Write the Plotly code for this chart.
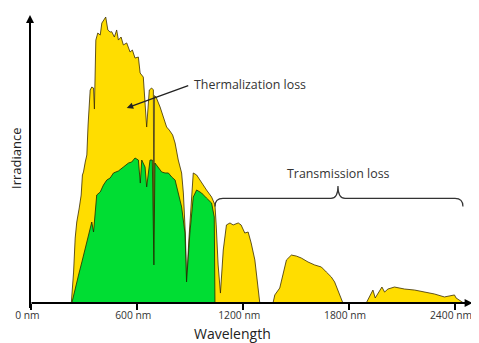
import plotly.graph_objects as go

# Total solar spectrum (wavelength in nm, irradiance in arbitrary units)
total_nm = [226, 239, 248, 257, 271, 282, 289, 295, 305, 314,
            321, 333, 342, 352, 357, 365, 376, 390, 399, 414,
            421, 433, 446, 455, 470, 483, 493, 508, 521, 540,
            559, 572, 587, 606, 616, 634, 653, 668, 681, 691,
            694, 697, 706, 729, 747, 766, 781, 800, 814, 832,
            851, 861, 872, 880, 892, 906, 917, 936, 964, 992,
            1021, 1040, 1047, 1058, 1071, 1081, 1087, 1105, 1125, 1143,
            1172, 1188, 1209, 1228, 1245, 1266, 1285, 1294, 1369, 1379,
            1407, 1426, 1445, 1473, 1501, 1529, 1567, 1605, 1643, 1671,
            1699, 1718, 1737, 1756, 1765, 1897, 1916, 1935, 1948, 1967,
            1986, 2001, 2020, 2057, 2114, 2171, 2227, 2284, 2340, 2397,
            2406, 2434, 2449]
total_irr = [0.0, 0.215, 0.451, 0.5625, 0.66, 0.75, 0.889, 0.91, 0.979, 1.028,
             1.236, 1.479, 1.5, 1.493, 1.347, 1.826, 1.875, 1.861, 1.944, 1.979,
             1.986, 1.896, 1.882, 1.884, 1.847, 1.896, 1.826, 1.847, 1.792, 1.806,
             1.743, 1.757, 1.701, 1.708, 1.597, 1.569, 1.222, 1.479, 1.493, 1.48,
             0.264, 1.44, 1.431, 1.361, 1.292, 1.222, 1.201, 1.167, 1.111, 0.993,
             0.903, 0.764, 0.486, 0.146, 0.4375, 0.715, 0.903, 0.889, 0.833, 0.785,
             0.736, 0.681, 0.542, 0.264, 0.069, 0.229, 0.368, 0.542, 0.556, 0.542,
             0.556, 0.542, 0.486, 0.493, 0.417, 0.299, 0.111, 0.0, 0.0, 0.056,
             0.104, 0.208, 0.299, 0.333, 0.326, 0.3125, 0.285, 0.264, 0.25, 0.215,
             0.181, 0.146, 0.09, 0.021, 0.0, 0.0, 0.042, 0.09, 0.035, 0.069,
             0.111, 0.076, 0.097, 0.111, 0.097, 0.09, 0.076, 0.0625, 0.042, 0.056,
             0.035, 0.014, 0.0]

# Portion of the spectrum usable by the cell
usable_nm = [229, 248, 267, 286, 305, 323, 342, 352, 361, 370,
             390, 408, 427, 446, 465, 493, 521, 550, 568, 587,
             606, 617, 625, 644, 653, 672, 685, 694, 700, 719,
             738, 757, 776, 795, 814, 832, 851, 870, 879, 898,
             917, 936, 964, 992, 1021, 1036, 1040]
usable_irr = [0.0, 0.104, 0.194, 0.285, 0.382, 0.472, 0.5625, 0.493, 0.66, 0.75,
              0.771, 0.819, 0.854, 0.868, 0.903, 0.917, 0.944, 0.972, 0.979, 1.007,
              0.993, 0.833, 0.993, 0.944, 0.806, 0.993, 0.993, 0.264, 0.972, 0.944,
              0.91, 0.903, 0.903, 0.875, 0.854, 0.764, 0.667, 0.486, 0.146, 0.486,
              0.736, 0.785, 0.764, 0.729, 0.694, 0.597, 0.0]

assert len(total_nm) == len(total_irr)
assert len(usable_nm) == len(usable_irr)

tick_vals = [0, 600, 1200, 1800, 2400]
tick_text = ["0 nm", "600 nm", "1200 nm", "1800 nm", "2400 nm"]

X0, X1 = -8, 2485
Y1 = 2.0
FONT = "Open Sans"

fig = go.Figure()
fig.add_trace(go.Scatter(x=total_nm, y=total_irr, mode="lines", fill="tozeroy",
                         fillcolor="#FFDD00", line=dict(color="#3a2c00", width=0.8),
                         hoverinfo="skip", showlegend=False))
fig.add_trace(go.Scatter(x=usable_nm, y=usable_irr, mode="lines", fill="tozeroy",
                         fillcolor="#00DD33", line=dict(color="#1a2a00", width=0.8),
                         hoverinfo="skip", showlegend=False))

# bracket for transmission loss
bl, br, bc = 1040, 2445, 1737
yh, ye, yp = 0.726, 0.67, 0.8125
path = (f"M {bl},{ye} Q {bl},{yh} {bl+45},{yh} L {bc-40},{yh} "
        f"Q {bc},{yh} {bc},{yp} Q {bc},{yh} {bc+40},{yh} L {br-45},{yh} "
        f"Q {br},{yh} {br},{ye}")
fig.add_shape(type="path", path=path, xref="x", yref="y",
              line=dict(color="#333333", width=1.2))

annotations = [
    # x axis arrow
    dict(x=2500, y=0, ax=X0, ay=0, xref="x", yref="y", axref="x", ayref="y",
         text="", showarrow=True, arrowhead=2, arrowsize=0.8, arrowwidth=2,
         arrowcolor="black"),
    # y axis arrow
    dict(x=X0, y=Y1, ax=X0, ay=-0.045, xref="x", yref="y", axref="x", ayref="y",
         text="", showarrow=True, arrowhead=2, arrowsize=0.8, arrowwidth=2,
         arrowcolor="black"),
    # thermalization arrow
    dict(x=540, y=1.354, ax=897, ay=1.514, xref="x", yref="y", axref="x", ayref="y",
         text="", showarrow=True, arrowhead=2, arrowsize=1, arrowwidth=1.3,
         arrowcolor="#222222"),
    dict(x=911, y=1.514, xref="x", yref="y", text="Thermalization loss",
         showarrow=False, xanchor="left", yanchor="middle",
         font=dict(family=FONT, size=12.4, color="#333333")),
    dict(x=1741, y=0.896, xref="x", yref="y", text="Transmission loss",
         showarrow=False, xanchor="center", yanchor="middle",
         font=dict(family=FONT, size=12.4, color="#333333")),
    # axis titles
    dict(x=0.46, y=0, xref="paper", yref="paper", text="Wavelength",
         showarrow=False, xanchor="center", yanchor="bottom", yshift=-42,
         font=dict(family=FONT, size=14, color="#222222")),
    dict(x=0, y=0.5, xref="paper", yref="paper", text="Irradiance",
         showarrow=False, xanchor="center", yanchor="middle", xshift=-14,
         textangle=-90, font=dict(family=FONT, size=13, color="#222222")),
]

# The page body adds an 8px offset, so the figure is sized to the visible area
fig.update_layout(
    width=471, height=335,
    margin=dict(l=22, r=9, t=7, b=40, autoexpand=False),
    paper_bgcolor="white", plot_bgcolor="white",
    annotations=annotations,
    xaxis=dict(range=[X0, X1], tickvals=tick_vals, ticktext=tick_text,
               ticks="outside", ticklen=6, tickwidth=1.5, tickcolor="black",
               showgrid=False, zeroline=False, showline=False, automargin=False,
               ticklabeloverflow="allow", ticklabelstandoff=-3, ticklabelshift=-4,
               tickfont=dict(family=FONT, size=10.3, color="#333333")),
    yaxis=dict(range=[0, Y1], showticklabels=False, ticks="", showgrid=False,
               zeroline=False, showline=False, automargin=False),
)

fig.write_html("out.html")
